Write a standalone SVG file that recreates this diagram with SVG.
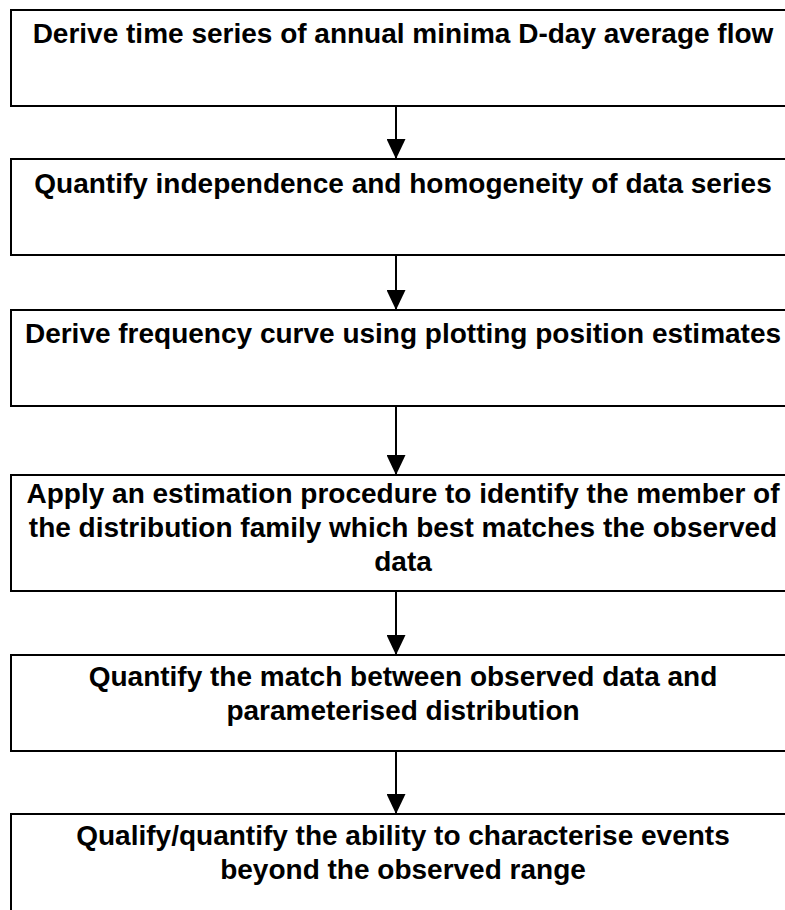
<svg xmlns="http://www.w3.org/2000/svg" width="785" height="910" viewBox="0 0 785 910">
  <style>
    .box { fill: #ffffff; stroke: #000000; stroke-width: 2; }
    .lbl { font-family: "Liberation Sans", Arial, sans-serif; font-weight: bold; font-size: 28px; fill: #000000; text-anchor: middle; }
    .conn { stroke: #000000; stroke-width: 2; fill: none; marker-end: url(#arrow); }
  </style>
  <defs>
    <marker id="arrow" markerUnits="userSpaceOnUse" markerWidth="20" markerHeight="19" refX="20" refY="9.5" orient="auto">
      <path d="M0,0 L20,9.5 L0,19 Z" fill="#000000"/>
    </marker>
  </defs>
  <rect width="785" height="910" fill="#ffffff"/>

  <g id="step1">
    <rect class="box" x="11" y="10" width="785" height="96"/>
    <text class="lbl" x="403" y="43">Derive time series of annual minima D-day average flow</text>
  </g>
  <g id="step2">
    <rect class="box" x="11" y="159" width="785" height="96"/>
    <text class="lbl" x="403" y="193">Quantify independence and homogeneity of data series</text>
  </g>
  <g id="step3">
    <rect class="box" x="11" y="310" width="785" height="96"/>
    <text class="lbl" x="403" y="343">Derive frequency curve using plotting position estimates</text>
  </g>
  <g id="step4">
    <rect class="box" x="11" y="475" width="785" height="116"/>
    <text class="lbl" x="403" y="503">Apply an estimation procedure to identify the member of</text>
    <text class="lbl" x="403" y="537">the distribution family which best matches the observed</text>
    <text class="lbl" x="403" y="571">data</text>
  </g>
  <g id="step5">
    <rect class="box" x="11" y="655" width="785" height="96"/>
    <text class="lbl" x="403" y="686">Quantify the match between observed data and</text>
    <text class="lbl" x="403" y="720">parameterised distribution</text>
  </g>
  <g id="step6">
    <rect class="box" x="11" y="814" width="785" height="120"/>
    <text class="lbl" x="403" y="845">Qualify/quantify the ability to characterise events</text>
    <text class="lbl" x="403" y="879">beyond the observed range</text>
  </g>

  <g id="connectors">
    <line class="conn" x1="396" y1="106" x2="396" y2="159"/>
    <line class="conn" x1="396" y1="255" x2="396" y2="310"/>
    <line class="conn" x1="396" y1="406" x2="396" y2="475"/>
    <line class="conn" x1="396" y1="591" x2="396" y2="655"/>
    <line class="conn" x1="396" y1="751" x2="396" y2="814"/>
  </g>
</svg>
